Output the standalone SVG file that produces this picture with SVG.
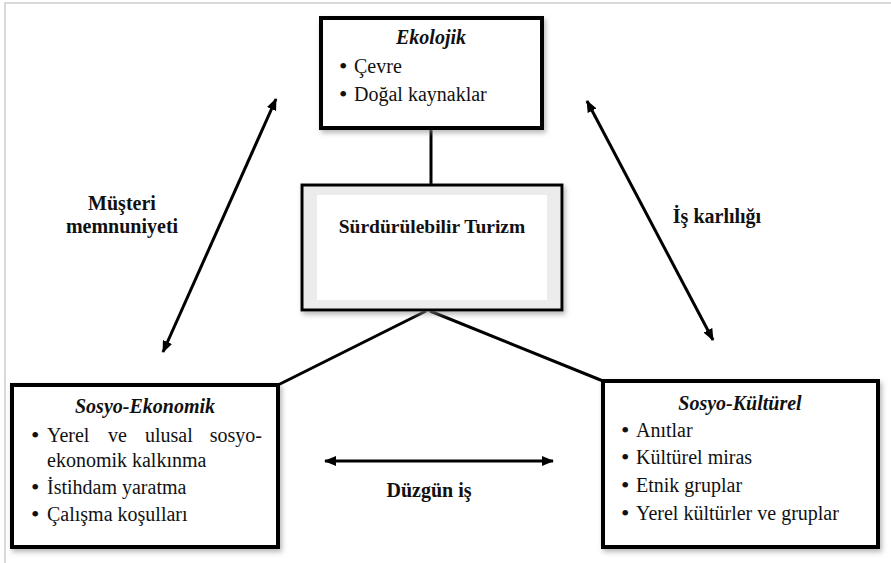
<svg xmlns="http://www.w3.org/2000/svg" width="891" height="563" viewBox="0 0 891 563">
<style>
  text { font-family: "Liberation Serif", "Times New Roman", serif; fill: #111; }
  .item { font-size: 20px; }
  .bul { font-size: 24px; }
  .title { font-size: 20px; font-weight: bold; font-style: italic; text-anchor: middle; }
  .lbl { font-size: 20px; font-weight: bold; text-anchor: middle; }
  .box { fill: #fff; stroke: #000; stroke-width: 4; filter: url(#sh); }
  .con { stroke: #000; stroke-width: 3; fill: none; }
  .arr { stroke: #000; stroke-width: 3; fill: none; marker-start: url(#ah); marker-end: url(#ah); }
</style>
<defs>
  <filter id="sh" x="-10%" y="-10%" width="120%" height="120%">
    <feDropShadow dx="2" dy="3" stdDeviation="2.5" flood-color="#888" flood-opacity="0.6"/>
  </filter>
  <marker id="ah" viewBox="0 0 12 10" refX="11" refY="5" markerWidth="12" markerHeight="10" markerUnits="userSpaceOnUse" orient="auto-start-reverse">
    <path d="M0,0 L12,5 L0,10 z" fill="#000"/>
  </marker>
</defs>
<rect width="891" height="563" fill="#fff"/>
<path d="M5,563 V3 H891" fill="none" stroke="#d9d9d9" stroke-width="2"/>

<g id="connectors">
  <line class="con" x1="431" y1="128" x2="431" y2="185"/>
  <line class="con" x1="426" y1="311" x2="278" y2="385"/>
  <line class="con" x1="430" y1="311" x2="603" y2="381"/>
  <line class="arr" x1="163" y1="352" x2="276" y2="99"/>
  <line class="arr" x1="587" y1="101" x2="713" y2="340"/>
  <line class="arr" x1="325" y1="461" x2="553" y2="461"/>
  <text class="lbl" x="122" y="210">Müşteri</text>
  <text class="lbl" x="122" y="233">memnuniyeti</text>
  <text class="lbl" x="717" y="223">İş karlılığı</text>
  <text class="lbl" x="429" y="497">Düzgün iş</text>
</g>

<g id="ekolojik">
  <rect class="box" x="321" y="18" width="221" height="110"/>
  <text class="title" x="431" y="44">Ekolojik</text>
  <text class="bul" x="339" y="74">•</text>
  <text class="item" x="354" y="73">Çevre</text>
  <text class="bul" x="339" y="102">•</text>
  <text class="item" x="354" y="101">Doğal kaynaklar</text>
</g>

<g id="surdurulebilir">
  <rect x="302" y="185" width="260" height="125" fill="#ececec" stroke="#000" stroke-width="3" filter="url(#sh)"/>
  <rect x="317" y="195" width="230" height="105" fill="#fff"/>
  <text x="432" y="233" font-size="19.5" font-weight="bold" text-anchor="middle">Sürdürülebilir Turizm</text>
</g>

<g id="sosyo-ekonomik">
  <rect class="box" x="12" y="385" width="266" height="162"/>
  <text class="title" x="145" y="413">Sosyo-Ekonomik</text>
  <text class="bul" x="31" y="443">•</text>
  <text class="item" y="442"><tspan x="47">Yerel</tspan><tspan x="108">ve</tspan><tspan x="145">ulusal</tspan><tspan x="262" text-anchor="end">sosyo-</tspan></text>
  <text class="item" x="47" y="467">ekonomik kalkınma</text>
  <text class="bul" x="31" y="495">•</text>
  <text class="item" x="47" y="494">İstihdam yaratma</text>
  <text class="bul" x="31" y="522">•</text>
  <text class="item" x="47" y="521">Çalışma koşulları</text>
</g>

<g id="sosyo-kulturel">
  <rect class="box" x="603" y="381" width="275" height="166"/>
  <text class="title" x="740" y="410">Sosyo-Kültürel</text>
  <text class="bul" x="621" y="438">•</text>
  <text class="item" x="636" y="437">Anıtlar</text>
  <text class="bul" x="621" y="465">•</text>
  <text class="item" x="636" y="464">Kültürel miras</text>
  <text class="bul" x="621" y="493">•</text>
  <text class="item" x="636" y="492">Etnik gruplar</text>
  <text class="bul" x="621" y="521">•</text>
  <text class="item" x="636" y="520">Yerel kültürler ve gruplar</text>
</g>
</svg>
